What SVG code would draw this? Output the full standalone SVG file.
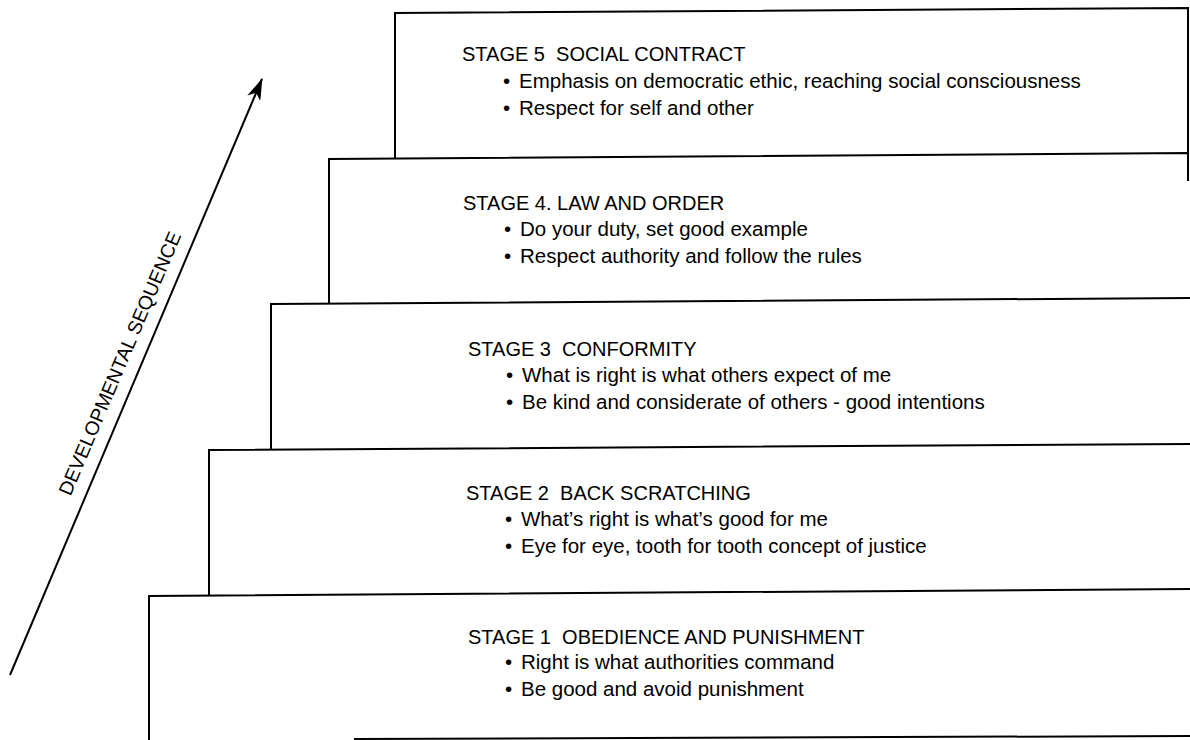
<svg xmlns="http://www.w3.org/2000/svg" width="1190" height="740" viewBox="0 0 1190 740">
  <style>
    .edge { stroke: #000; stroke-width: 2; fill: none; stroke-linecap: square; }
    .title { font-family: "Liberation Sans", Arial, sans-serif; font-size: 20px; fill: #000; }
    .item { font-family: "Liberation Sans", Arial, sans-serif; font-size: 20.5px; fill: #000; }
    .label { font-family: "Liberation Sans", Arial, sans-serif; font-size: 19.5px; fill: #000; }
  </style>
  <defs>
    <marker id="arrowhead" markerUnits="userSpaceOnUse" viewBox="0 0 22 14" refX="21" refY="7" markerWidth="22" markerHeight="14" orient="auto">
      <path d="M0,0 L22,7 L0,14 L6,7 Z" fill="#000"/>
    </marker>
  </defs>
  <rect width="1190" height="740" fill="#fff"/>

  <g id="stage5">
    <path class="edge" d="M395,158 L395,13 L1188,8 L1188,154"/>
    <text class="title" x="462" y="61" xml:space="preserve">STAGE 5  SOCIAL CONTRACT</text>
    <text class="item" x="503" y="88">•</text>
    <text class="item" x="519" y="88">Emphasis on democratic ethic, reaching social consciousness</text>
    <text class="item" x="503" y="115">•</text>
    <text class="item" x="519" y="115">Respect for self and other</text>
  </g>

  <g id="stage4">
    <path class="edge" d="M329,302 L329,159 L1188,153 L1188,180"/>
    <text class="title" x="463" y="210">STAGE 4. LAW AND ORDER</text>
    <text class="item" x="504" y="236">•</text>
    <text class="item" x="520" y="236">Do your duty, set good example</text>
    <text class="item" x="504" y="263">•</text>
    <text class="item" x="520" y="263">Respect authority and follow the rules</text>
  </g>

  <g id="stage3">
    <path class="edge" d="M271,448 L271,304 L1190,298"/>
    <text class="title" x="468" y="356" xml:space="preserve">STAGE 3  CONFORMITY</text>
    <text class="item" x="506" y="382">•</text>
    <text class="item" x="522" y="382">What is right is what others expect of me</text>
    <text class="item" x="506" y="409">•</text>
    <text class="item" x="522" y="409">Be kind and considerate of others - good intentions</text>
  </g>

  <g id="stage2">
    <path class="edge" d="M209,594 L209,450 L1190,444"/>
    <text class="title" x="466" y="500" xml:space="preserve">STAGE 2  BACK SCRATCHING</text>
    <text class="item" x="505" y="526">•</text>
    <text class="item" x="521" y="526">What’s right is what’s good for me</text>
    <text class="item" x="505" y="553">•</text>
    <text class="item" x="521" y="553">Eye for eye, tooth for tooth concept of justice</text>
  </g>

  <g id="stage1">
    <path class="edge" d="M149,740 L149,596 L1190,589"/>
    <path class="edge" d="M355,739 L1190,736"/>
    <text class="title" x="468" y="644" xml:space="preserve">STAGE 1  OBEDIENCE AND PUNISHMENT</text>
    <text class="item" x="505" y="669">•</text>
    <text class="item" x="521" y="669">Right is what authorities command</text>
    <text class="item" x="505" y="696">•</text>
    <text class="item" x="521" y="696">Be good and avoid punishment</text>
  </g>

  <g id="connectors">
    <line x1="10" y1="675" x2="262" y2="79" stroke="#000" stroke-width="2" marker-end="url(#arrowhead)"/>
    <text class="label" transform="translate(126,366) rotate(-67)" text-anchor="middle">DEVELOPMENTAL SEQUENCE</text>
  </g>
</svg>
